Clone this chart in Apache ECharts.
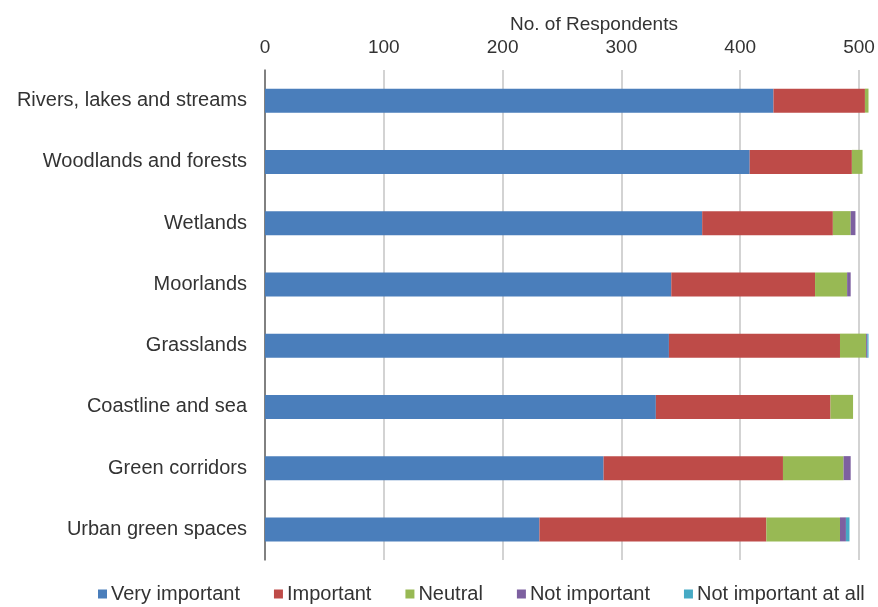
<!DOCTYPE html>
<html>
<head>
<meta charset="utf-8">
<script src="https://cdn.jsdelivr.net/npm/echarts@6/dist/echarts.min.js"></script>
<style>html,body{margin:0;padding:0;background:#fff}#c{width:878px;height:607px}</style>
</head>
<body>
<div id="c"></div>
<script>
const categories = ["Rivers, lakes and streams","Woodlands and forests","Wetlands","Moorlands","Grasslands","Coastline and sea","Green corridors","Urban green spaces"];
const veryImportant = [428, 408, 368, 342, 340, 329, 285, 231];
const important = [77, 86, 110, 121, 144, 147, 151, 191];
const neutral = [3, 9, 15, 27, 22, 19, 51, 62];
const notImportant = [0, 0, 4, 3, 1, 0, 6, 5];
const notImportantAtAll = [0, 0, 0, 0, 1, 0, 0, 3];
const seriesNames = ["Very important","Important","Neutral","Not important","Not important at all"];
const axisTitle = "No. of Respondents";
const colors = ["#4A7EBB","#BE4B48","#98B954","#7D60A0","#46AAC5"];

const chart = echarts.init(document.getElementById('c'));
const dataSets = [veryImportant, important, neutral, notImportant, notImportantAtAll];
chart.setOption({
  animation: false,
  textStyle: {fontFamily: 'Liberation Sans, Arial, sans-serif'},
  title: {
    text: axisTitle, left: 505, top: 10,
    textStyle: {color: '#333', fontSize: 19, fontWeight: 'normal', fontFamily: 'Liberation Sans, Arial, sans-serif'}
  },
  grid: {left: 265, right: 19, top: 70, height: 490},
  xAxis: {
    type: 'value', position: 'top', min: 0, max: 500, interval: 100,
    axisLine: {show: false}, axisTick: {show: false},
    axisLabel: {color: '#333', fontSize: 19, margin: 13},
    splitLine: {show: true, lineStyle: {color: '#C4C4C4', width: 1.5}}
  },
  yAxis: {
    type: 'category', data: categories, inverse: true,
    axisLine: {show: true, lineStyle: {color: '#666', width: 1.5}},
    axisTick: {show: false},
    axisLabel: {color: '#333', fontSize: 20, margin: 18}
  },
  legend: {
    left: 93, top: 579, itemWidth: 9, itemHeight: 9, itemGap: 34,
    icon: 'rect',
    textStyle: {color: '#333', fontSize: 20, padding: [0,0,0,-1]},
    data: seriesNames
  },
  series: seriesNames.map((n, i) => ({
    name: n, type: 'bar', stack: 'total', barWidth: 24, clip: false,
    itemStyle: {color: colors[i]},
    data: dataSets[i]
  }))
});
</script>
</body>
</html>
